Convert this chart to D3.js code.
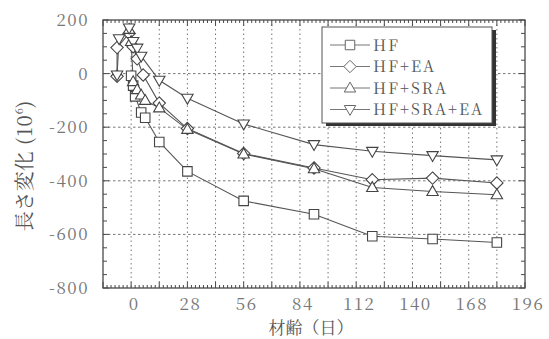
<!DOCTYPE html>
<html>
<head>
<meta charset="utf-8">
<script src="https://cdn.jsdelivr.net/npm/d3@7"></script>
<style>
  body { margin: 0; background: #fff; }
  svg { display: block; }
</style>
</head>
<body>
<div id="chart"></div>
<script>
// ages (days) and length change (x10^-6) per mix
const hfDays = [0, 1, 2, 5, 7, 14, 28, 56, 91, 120, 150, 182];
const hfVals = [-8, -45, -85, -145, -165, -255, -365, -475, -525, -607, -617, -630];
const eaDays = [-7, -7, -1, 1, 3, 6, 14, 28, 56, 91, 120, 150, 182];
const eaVals = [-10, 97, 150, 100, 55, -5, -110, -205, -298, -352, -396, -390, -408];
const sraDays = [-1, 0, 1, 3, 5, 7, 14, 28, 56, 91, 120, 150, 182];
const sraVals = [165, 120, -30, -60, -80, -100, -128, -208, -300, -355, -425, -440, -452];
const sraEaDays = [-7, -6, -1, 1, 3, 5, 14, 28, 56, 91, 120, 150, 182];
const sraEaVals = [-5, 130, 170, 120, 95, 65, -25, -92, -188, -265, -290, -306, -322];

const seriesNames = ['HF', 'HF+EA', 'HF+SRA', 'HF+SRA+EA'];
const seriesMarks = ['square', 'diamond', 'up', 'down'];
const xTicks = [0, 28, 56, 84, 112, 140, 168, 196];
const yTicks = [200, 0, -200, -400, -600, -800];

const W = 549, H = 339;
const m = { left: 103, right: 24, top: 20, bottom: 51 };
const MINCHO = 'Noto Serif CJK JP, Noto Serif CJK SC, Liberation Serif, serif';

const svg = d3.select('#chart').append('svg').attr('width', W).attr('height', H)
  .style('font-family', MINCHO);

const x = d3.scaleLinear().domain([-14, 196]).range([m.left, W - m.right]);
const y = d3.scaleLinear().domain([-800, 200]).range([H - m.bottom, m.top]);

const ink = '#4a4a4a';
const grid = svg.append('g');
// dotted grid
d3.range(0, 196, 14).forEach(d => {
  grid.append('line').attr('x1', x(d)).attr('x2', x(d))
    .attr('y1', y(200)).attr('y2', y(-800))
    .attr('stroke', '#777').attr('stroke-width', 1).attr('stroke-dasharray', '1.5,3');
});
yTicks.slice(1, -1).forEach(v => {
  grid.append('line').attr('x1', x(-14)).attr('x2', x(196))
    .attr('y1', y(v)).attr('y2', y(v))
    .attr('stroke', '#777').attr('stroke-width', 1).attr('stroke-dasharray', '2.5,2.5');
});

// frame with minor ticks on all sides
const frame = svg.append('g');
frame.append('rect').attr('x', x(-14)).attr('y', y(200))
  .attr('width', x(196) - x(-14)).attr('height', y(-800) - y(200))
  .attr('fill', 'none').attr('stroke', ink).attr('stroke-width', 1.3);
d3.range(-14, 196.1, 2).forEach(d => {
  const len = (d % 14 === 0) ? 6 : 3;
  frame.append('line').attr('x1', x(d)).attr('x2', x(d))
    .attr('y1', y(-800)).attr('y2', y(-800) - len).attr('stroke', ink);
  frame.append('line').attr('x1', x(d)).attr('x2', x(d))
    .attr('y1', y(200)).attr('y2', y(200) + len).attr('stroke', ink);
});
d3.range(-800, 200.1, 50).forEach(v => {
  const len = (v % 200 === 0) ? 6 : 4;
  frame.append('line').attr('x1', x(-14)).attr('x2', x(-14) + len)
    .attr('y1', y(v)).attr('y2', y(v)).attr('stroke', ink);
  frame.append('line').attr('x1', x(196)).attr('x2', x(196) - len)
    .attr('y1', y(v)).attr('y2', y(v)).attr('stroke', ink);
});

// tick labels
svg.append('g').selectAll('text').data(xTicks).join('text')
  .attr('x', d => x(d) + 3).attr('y', 310)
  .attr('text-anchor', 'middle')
  .attr('font-size', 17).attr('letter-spacing', 1.5)
  .attr('fill', '#777').text(d => d);
svg.append('g').selectAll('text').data(yTicks).join('text')
  .attr('x', 89).attr('y', d => y(d) + 6)
  .attr('text-anchor', 'end')
  .attr('font-size', 17).attr('letter-spacing', 1.5)
  .attr('fill', '#777').text(d => d === 0 ? '0' : (d < 0 ? '-' + (-d) : d));

// axis titles
svg.append('text').attr('x', 311).attr('y', 334).attr('text-anchor', 'middle')
  .attr('font-size', 17).attr('fill', '#555')
  .text('材齢（日）');
const yt = svg.append('text').attr('transform', 'translate(32,166) rotate(-90)')
  .attr('text-anchor', 'middle')
  .attr('font-size', 20).attr('fill', '#555');
yt.append('tspan').text('長さ変化');
yt.append('tspan').attr('letter-spacing', 1).text(' (10');
yt.append('tspan').attr('font-size', 11).attr('dy', -9).text('6');
yt.append('tspan').attr('dy', 9).text(')');

// markers
function markPath(kind) {
  const s = 9.5;
  if (kind === 'square') return `M${-s / 2},${-s / 2}h${s}v${s}h${-s}Z`;
  if (kind === 'diamond') return `M0,${-s * 0.65}L${s * 0.65},0L0,${s * 0.65}L${-s * 0.65},0Z`;
  if (kind === 'up') return `M0,${-s * 0.62}L${s * 0.6},${s * 0.42}L${-s * 0.6},${s * 0.42}Z`;
  return `M0,${s * 0.62}L${s * 0.6},${-s * 0.42}L${-s * 0.6},${-s * 0.42}Z`;
}

const allSeries = [
  [hfDays, hfVals], [eaDays, eaVals], [sraDays, sraVals], [sraEaDays, sraEaVals]
];
const line = d3.line().x(p => x(p[0])).y(p => y(p[1]));
const plot = svg.append('g');
allSeries.forEach(([days, vals], i) => {
  const pts = days.map((d, k) => [d, vals[k]]);
  plot.append('path').datum(pts).attr('d', line)
    .attr('fill', 'none').attr('stroke', '#555').attr('stroke-width', 1.1);
});
allSeries.forEach(([days, vals], i) => {
  const pts = days.map((d, k) => [d, vals[k]]);
  plot.append('g').selectAll('path').data(pts).join('path')
    .attr('transform', p => `translate(${x(p[0])},${y(p[1])})`)
    .attr('d', markPath(seriesMarks[i]))
    .attr('fill', '#fff').attr('stroke', '#444').attr('stroke-width', 1.1);
});

// legend
const lg = svg.append('g');
const lx = 322, ly = 27, lw = 170, lh = 96;
lg.append('rect').attr('x', lx + 4).attr('y', ly + 3).attr('width', lw).attr('height', lh).attr('fill', '#333');
lg.append('rect').attr('x', lx).attr('y', ly).attr('width', lw).attr('height', lh)
  .attr('fill', '#fff').attr('stroke', '#555').attr('stroke-width', 1);
seriesNames.forEach((name, i) => {
  const yy = 45 + i * 21.5;
  lg.append('line').attr('x1', 330).attr('x2', 370).attr('y1', yy).attr('y2', yy)
    .attr('stroke', '#777').attr('stroke-width', 1);
  lg.append('path').attr('transform', `translate(350,${yy})`).attr('d', markPath(seriesMarks[i]))
    .attr('fill', '#fff').attr('stroke', '#666').attr('stroke-width', 1);
  lg.append('text').attr('x', 373).attr('y', yy + 5.5)
    .attr('font-size', 15.5).attr('letter-spacing', 2)
    .attr('fill', '#555').text(name);
});
</script>
</body>
</html>
